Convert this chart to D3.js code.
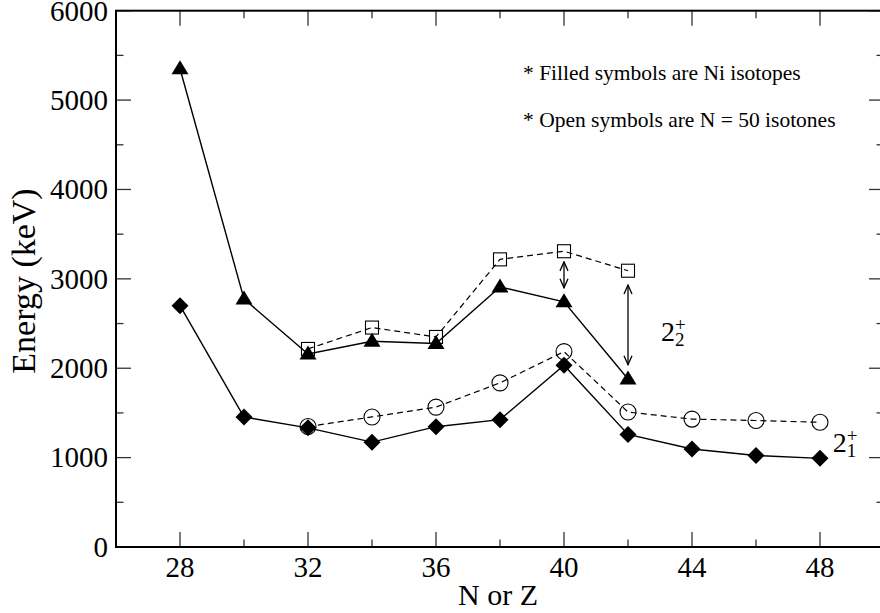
<!DOCTYPE html>
<html>
<head>
<meta charset="utf-8">
<script src="https://cdn.jsdelivr.net/npm/d3@7/dist/d3.min.js"></script>
<style>
  html, body { margin: 0; padding: 0; background: #fff; }
</style>
</head>
<body>
<svg id="chart" width="880" height="613"></svg>
<script>
// Ni isotopes (filled symbols), x = N
const niN = [28, 30, 32, 34, 36, 38, 40, 42, 44, 46, 48];
const ni2plus1 = [2700, 1454, 1333, 1173, 1346, 1425, 2033, 1260, 1096, 1024, 992];
const niN2 = [28, 30, 32, 34, 36, 38, 40, 42];
const ni2plus2 = [5351, 2775, 2159, 2302, 2277, 2910, 2743, 1880];

// N = 50 isotones (open symbols), x = Z
const isoZ1 = [32, 34, 36, 38, 40, 42, 44, 46, 48];
const iso2plus1 = [1348, 1455, 1565, 1836, 2186, 1510, 1431, 1415, 1395];
const isoZ2 = [32, 34, 36, 38, 40, 42];
const iso2plus2 = [2216, 2455, 2350, 3218, 3309, 3091];

// double-headed arrows between the 2+2 levels
const arrowX = [40, 42];
const arrowTop = [3190, 2930];
const arrowBottom = [2900, 2040];

const xMajorTicks = [28, 32, 36, 40, 44, 48];
const yMajorTicks = [0, 1000, 2000, 3000, 4000, 5000, 6000];

const svg = d3.select("#chart");
const pLeft = 116, pRight = 884, pTop = 10.7, pBottom = 547;

// serif face for every label
function serif(sel) {
  return sel.style("font-family", "'Liberation Serif', 'Times New Roman', serif");
}

const x = d3.scaleLinear().domain([26, 50]).range([pLeft, pRight]);
const y = d3.scaleLinear().domain([0, 6000]).range([pBottom, pTop]);

// ticks on all four sides, pointing inward
const tickCol = "#333";
const xMinor = d3.range(26, 51, 2).filter(v => !xMajorTicks.includes(v));
const yMinor = d3.range(0, 6001, 500).filter(v => !yMajorTicks.includes(v));
const tg = svg.append("g").attr("stroke", tickCol).attr("stroke-width", 1.3);
function xTick(v, len) {
  tg.append("line").attr("x1", x(v)).attr("x2", x(v)).attr("y1", pBottom).attr("y2", pBottom - len);
  tg.append("line").attr("x1", x(v)).attr("x2", x(v)).attr("y1", pTop).attr("y2", pTop + len);
}
function yTick(v, len) {
  tg.append("line").attr("y1", y(v)).attr("y2", y(v)).attr("x1", pLeft).attr("x2", pLeft + len);
  tg.append("line").attr("y1", y(v)).attr("y2", y(v)).attr("x1", pRight).attr("x2", pRight - len);
}
xMajorTicks.forEach(v => xTick(v, 15));
xMinor.forEach(v => xTick(v, 7.5));
yMajorTicks.forEach(v => yTick(v, 15));
yMinor.forEach(v => yTick(v, 7.5));

// frame
svg.append("rect").attr("x", pLeft).attr("y", pTop)
  .attr("width", pRight - pLeft).attr("height", pBottom - pTop)
  .attr("fill", "none").attr("stroke", "#000").attr("stroke-width", 2);

// tick labels
serif(svg.append("g").selectAll("text").data(xMajorTicks).join("text"))
  .attr("x", d => x(d)).attr("y", 577)
  .attr("text-anchor", "middle").attr("font-size", 29).text(d => d);
serif(svg.append("g").selectAll("text").data(yMajorTicks).join("text"))
  .attr("x", 108).attr("y", d => y(d)).attr("dy", "0.34em")
  .attr("text-anchor", "end").attr("font-size", 29).text(d => d);

// axis titles
serif(svg.append("text")).attr("x", 498).attr("y", 605)
  .attr("text-anchor", "middle").attr("font-size", 30).text("N or Z");
serif(svg.append("text")).attr("transform", `translate(35,281) rotate(-90)`)
  .attr("text-anchor", "middle").attr("font-size", 34).text("Energy (keV)");

const line = d3.line().x(d => x(d[0])).y(d => y(d[1]));
const zip = (a, b) => a.map((v, i) => [v, b[i]]);

const ni1 = zip(niN, ni2plus1), ni2 = zip(niN2, ni2plus2);
const iso1 = zip(isoZ1, iso2plus1), iso2 = zip(isoZ2, iso2plus2);

// connecting lines
svg.append("path").datum(iso1).attr("d", line).attr("fill", "none")
  .attr("stroke", "#000").attr("stroke-width", 1.2).attr("stroke-dasharray", "6,4");
svg.append("path").datum(iso2).attr("d", line).attr("fill", "none")
  .attr("stroke", "#000").attr("stroke-width", 1.2).attr("stroke-dasharray", "6,4");
svg.append("path").datum(ni1).attr("d", line).attr("fill", "none")
  .attr("stroke", "#000").attr("stroke-width", 1.4);
svg.append("path").datum(ni2).attr("d", line).attr("fill", "none")
  .attr("stroke", "#000").attr("stroke-width", 1.4);

// open symbols: circles and squares
svg.append("g").selectAll("circle").data(iso1).join("circle")
  .attr("cx", d => x(d[0])).attr("cy", d => y(d[1])).attr("r", 8)
  .attr("fill", "none").attr("stroke", "#000").attr("stroke-width", 1.1);
svg.append("g").selectAll("rect").data(iso2).join("rect")
  .attr("x", d => x(d[0]) - 6.5).attr("y", d => y(d[1]) - 6.5)
  .attr("width", 13).attr("height", 13)
  .attr("fill", "none").attr("stroke", "#000").attr("stroke-width", 1.1);

// filled symbols: diamonds and triangles
svg.append("g").selectAll("path").data(ni1).join("path")
  .attr("transform", d => `translate(${x(d[0])},${y(d[1])})`)
  .attr("d", "M0,-8.5L8.5,0L0,8.5L-8.5,0Z").attr("fill", "#000");
svg.append("g").selectAll("path").data(ni2).join("path")
  .attr("transform", d => `translate(${x(d[0])},${y(d[1])})`)
  .attr("d", "M0,-8.5L8.5,5.5L-8.5,5.5Z").attr("fill", "#000");

// arrows: open V heads at both ends
const defs = svg.append("defs");
defs.append("marker").attr("id", "head")
  .attr("viewBox", "-11 -6 12 12").attr("refX", 0).attr("refY", 0)
  .attr("markerWidth", 12).attr("markerHeight", 12)
  .attr("markerUnits", "userSpaceOnUse").attr("orient", "auto-start-reverse")
  .append("path").attr("d", "M-9,-4L0,0L-9,4")
  .attr("fill", "none").attr("stroke", "#000").attr("stroke-width", 1.3);
svg.append("g").selectAll("line").data(arrowX).join("line")
  .attr("x1", d => x(d)).attr("x2", d => x(d))
  .attr("y1", (d, i) => y(arrowTop[i])).attr("y2", (d, i) => y(arrowBottom[i]))
  .attr("stroke", "#000").attr("stroke-width", 1.3)
  .attr("marker-start", "url(#head)").attr("marker-end", "url(#head)");

// level labels: 2 with stacked superscript + and subscript index
function levelLabel(xv, yv, sub) {
  const t = serif(svg.append("text")).attr("x", x(xv)).attr("y", y(yv)).attr("font-size", 28);
  t.append("tspan").text("2");
  t.append("tspan").attr("font-size", 19).attr("dy", -10).text("+");
  t.append("tspan").attr("font-size", 19).attr("x", x(xv) + 14).attr("dy", 15).text(sub);
}
levelLabel(43.03, 2304, "2");
levelLabel(48.4, 1063, "1");

// notes
serif(svg.append("text")).attr("x", x(38.72)).attr("y", y(5224)).attr("font-size", 21.5)
  .text("* Filled symbols are Ni isotopes");
serif(svg.append("text")).attr("x", x(38.72)).attr("y", y(4698)).attr("font-size", 21.5)
  .text("* Open symbols are N = 50 isotones");
</script>
</body>
</html>
